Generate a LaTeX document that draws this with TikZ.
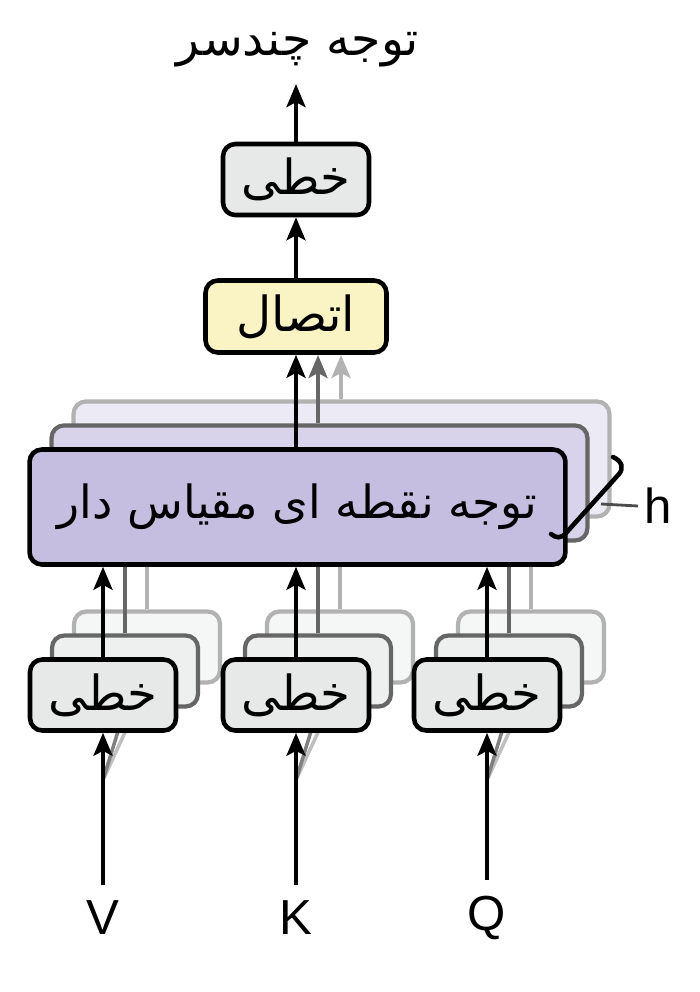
\documentclass[tikz,border=0pt]{standalone}
\usepackage{fontspec}
\newfontfamily\fa[Script=Arabic]{DejaVu Sans}
\newfontfamily\lat{Liberation Sans}
\TeXXeTstate=1
\usetikzlibrary{arrows.meta, positioning, calc}
\definecolor{lingrey}{RGB}{230,233,232}
\definecolor{catyellow}{RGB}{250,244,196}
\definecolor{attlila}{RGB}{197,190,224}
\definecolor{attlilaB}{RGB}{216,211,235}
\definecolor{attlilaC}{RGB}{236,234,245}

\begin{document}
\begin{tikzpicture}[x=0.02cm, y=-0.02cm,
  box/.style={draw, line width=2.6pt, rounded corners=7pt, inner sep=0pt, font=\fa\fontsize{27.5}{30}\selectfont},
  linbox/.style={box, fill=lingrey, minimum width=2.92cm, minimum height=1.42cm},
  catbox/.style={box, fill=catyellow, minimum width=3.62cm, minimum height=1.44cm},
  attbox/.style={box, fill=attlila, minimum width=10.72cm, minimum height=2.3cm, font=\fa\fontsize{26}{30}\selectfont},
  layerB/.style={draw=black!60, line width=2.4pt, rounded corners=7pt, inner sep=0pt},
  layerC/.style={draw=black!30, line width=2.4pt, rounded corners=7pt, inner sep=0pt},
  arr/.style={-{Stealth[length=0.46cm, width=0.38cm, inset=0.1cm]}, line width=2.2pt},
  arrB/.style={arr, black!60},
  arrC/.style={arr, black!30},
  inlabel/.style={font=\lat\fontsize{28}{32}\selectfont, inner sep=9pt}]
\useasboundingbox (0,0) rectangle (700,992);

% upper part
\node[font=\fa\fontsize{27}{32}\selectfont] (title) at (298,50) {\beginR توجه چندسر\endR};
\node[linbox] (linTop) at (296,179.5) {\beginR خطی\endR};
\node[catbox] (cat) at (296,316.5) {\beginR اتصال\endR};
\coordinate (catB) at (318,355);
\coordinate (catC) at (341,355);

% stacked heads behind
\node[layerC, fill=attlilaC, minimum width=10.72cm, minimum height=2.3cm] (attC) at (341.5,459) {};
\node[layerC, fill=lingrey!40, minimum width=2.92cm, minimum height=1.42cm] (linVC) at (147,647) {};
\node[layerC, fill=lingrey!40, minimum width=2.92cm, minimum height=1.42cm] (linKC) at (340,647) {};
\node[layerC, fill=lingrey!40, minimum width=2.92cm, minimum height=1.42cm] (linQC) at (531,647) {};
\draw[arrC] (linVC.north) -- (linVC.north |- attC.south);
\draw[arrC] (linKC.north) -- (linKC.north |- attC.south);
\draw[arrC] (linQC.north) -- (linQC.north |- attC.south);
\draw[arrC] (catC |- attC.north) -- (catC);

\node[layerB, fill=attlilaB, minimum width=10.72cm, minimum height=2.3cm] (attB) at (319.5,483) {};
\node[layerB, fill=lingrey!70, minimum width=2.92cm, minimum height=1.42cm] (linVB) at (125,671) {};
\node[layerB, fill=lingrey!70, minimum width=2.92cm, minimum height=1.42cm] (linKB) at (318,671) {};
\node[layerB, fill=lingrey!70, minimum width=2.92cm, minimum height=1.42cm] (linQB) at (509,671) {};
\draw[arrB] (linVB.north) -- (linVB.north |- attB.south);
\draw[arrB] (linKB.north) -- (linKB.north |- attB.south);
\draw[arrB] (linQB.north) -- (linQB.north |- attB.south);
\draw[arrB] (catB |- attB.north) -- (catB);

% inputs
\node[inlabel] (inV) at (103,918) {V};
\node[inlabel] (inK) at (296,918) {K};
\node[inlabel] (inQ) at (487,918) {Q};
\coordinate (splitV) at (103,780);
\coordinate (splitK) at (296,780);
\coordinate (splitQ) at (487,780);
\draw[black!25, line width=2pt] (splitV) -- (linVC.south);
\draw[black!25, line width=2pt] (splitK) -- (linKC.south);
\draw[black!25, line width=2pt] (splitQ) -- (linQC.south);
\draw[black!50, line width=2pt] (splitV) -- (linVB.south);
\draw[black!50, line width=2pt] (splitK) -- (linKB.south);
\draw[black!50, line width=2pt] (splitQ) -- (linQB.south);

% front head
\node[attbox] (att) at (297.5,507) {\beginR توجه نقطه ای مقیاس دار\endR};
\node[linbox] (linV) at (103,695) {\beginR خطی\endR};
\node[linbox] (linK) at (296,695) {\beginR خطی\endR};
\node[linbox] (linQ) at (487,695) {\beginR خطی\endR};

\draw[arr] (linV.south |- inV.north) -- (linV.south);
\draw[arr] (linK.south |- inK.north) -- (linK.south);
\draw[arr] (linQ.south |- inQ.north) -- (linQ.south);
\draw[arr] (linV.north) -- (linV.north |- att.south);
\draw[arr] (linK.north) -- (linK.north |- att.south);
\draw[arr] (linQ.north) -- (linQ.north |- att.south);
\draw[arr] (cat.south |- att.north) -- (cat.south);
\draw[arr] (cat.north) -- (cat.north |- linTop.south);
\draw[arr, shorten >=6pt] (linTop.north) -- (linTop.north |- title.south);

% number of heads
\node[font=\lat\fontsize{28}{32}\selectfont] (hlab) at (658,506) {h};
\coordinate (hend) at (601,504);
\draw[black!70, line width=1.6pt] (hlab.west) -- (hend);
\draw[line width=2.6pt, line cap=round] (613,457) .. controls (622,461) and (624,468) .. (619,474) -- (566,533) .. controls (561,539) and (556,538) .. (551,534);
\end{tikzpicture}
\end{document}
